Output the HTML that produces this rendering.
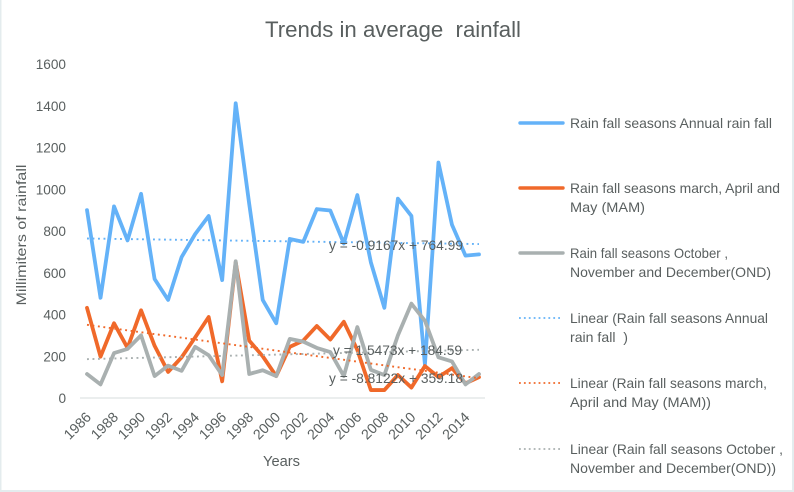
<!DOCTYPE html>
<html>
<head>
<meta charset="utf-8">
<title>Trends in average rainfall</title>
<style>
html,body{margin:0;padding:0;background:#fff;width:794px;height:492px;overflow:hidden}
svg{display:block;font-family:"Liberation Sans",sans-serif}
text{fill:#595f5f}
</style>
</head>
<body>
<svg id="chart" width="794" height="492" viewBox="0 0 794 492">
<rect x="0" y="0" width="794" height="492" fill="#ffffff"/>
<rect x="0" y="0" width="1.5" height="492" fill="#e4ecee"/>
<rect x="792" y="0" width="2" height="492" fill="#e4ecee"/>
<rect x="0" y="490" width="794" height="2" fill="#e4ecee"/>
<text x="393" y="37" text-anchor="middle" font-size="22.5" textLength="256" lengthAdjust="spacingAndGlyphs" xml:space="preserve">Trends in average  rainfall</text>
<text transform="translate(26,235) rotate(-90)" text-anchor="middle" font-size="14" textLength="141" lengthAdjust="spacingAndGlyphs">Millimiters of rainfall</text>
<text x="281.5" y="466" text-anchor="middle" font-size="14.5" textLength="37" lengthAdjust="spacingAndGlyphs">Years</text>
<g id="yTicks"></g>
<g id="xTicks"></g>
<line x1="80" y1="398" x2="485" y2="398" stroke="#dfe3e3" stroke-width="1.2"/>
<g id="marks"></g>
<g id="equations"></g>
<g font-size="13.8">
<g>
<line x1="520" y1="123" x2="563" y2="123" stroke="#64b2f8" stroke-width="3.4" stroke-linecap="round"/>
<text x="570" y="128" textLength="202" lengthAdjust="spacingAndGlyphs">Rain fall seasons Annual rain fall</text>
</g>
<g>
<line x1="520" y1="188" x2="563" y2="188" stroke="#f0692a" stroke-width="3.4" stroke-linecap="round"/>
<text x="570" y="193" textLength="210" lengthAdjust="spacingAndGlyphs">Rain fall seasons march, April and</text>
<text x="570" y="212" textLength="75" lengthAdjust="spacingAndGlyphs">May (MAM)</text>
</g>
<g>
<line x1="520" y1="253" x2="563" y2="253" stroke="#a9b0b0" stroke-width="3.4" stroke-linecap="round"/>
<text x="570" y="258" textLength="158" lengthAdjust="spacingAndGlyphs">Rain fall seasons October ,</text>
<text x="570" y="277" textLength="201" lengthAdjust="spacingAndGlyphs">November and December(OND)</text>
</g>
<g>
<line x1="519" y1="318" x2="563" y2="318" stroke="#64b2f8" stroke-width="1.8" stroke-dasharray="1.8 3.1"/>
<text x="570" y="323" textLength="198" lengthAdjust="spacingAndGlyphs">Linear (Rain fall seasons Annual</text>
<text x="570" y="342" xml:space="preserve" textLength="58" lengthAdjust="spacingAndGlyphs">rain fall  )</text>
</g>
<g>
<line x1="519" y1="383" x2="563" y2="383" stroke="#f0692a" stroke-width="1.8" stroke-dasharray="1.8 3.1"/>
<text x="570" y="388" textLength="197" lengthAdjust="spacingAndGlyphs">Linear (Rain fall seasons march,</text>
<text x="570" y="407" textLength="141" lengthAdjust="spacingAndGlyphs">April and May (MAM))</text>
</g>
<g>
<line x1="519" y1="449" x2="563" y2="449" stroke="#a9b0b0" stroke-width="1.8" stroke-dasharray="1.8 3.1"/>
<text x="570" y="454" textLength="213" lengthAdjust="spacingAndGlyphs">Linear (Rain fall seasons October ,</text>
<text x="570" y="473" textLength="206" lengthAdjust="spacingAndGlyphs">November and December(OND))</text>
</g>
</g>
</svg>
<script>
const years = [1986,1987,1988,1989,1990,1991,1992,1993,1994,1995,1996,1997,1998,1999,2000,2001,2002,2003,2004,2005,2006,2007,2008,2009,2010,2011,2012,2013,2014,2015];
const annualValues = [900,480,918,755,978,570,470,675,785,872,565,1412,930,470,358,762,748,905,898,740,972,650,432,955,872,160,1128,830,682,688];
const mamValues = [432,198,358,240,420,250,125,195,290,388,80,650,275,200,105,245,275,345,280,365,230,38,38,110,50,153,100,143,70,100];
const ondValues = [115,65,215,235,300,105,155,130,245,205,110,655,115,133,105,283,270,240,220,105,340,135,110,300,452,370,195,175,65,115];
const yTickValues = [0,200,400,600,800,1000,1200,1400,1600];
const xTickLabels = [1986,1988,1990,1992,1994,1996,1998,2000,2002,2004,2006,2008,2010,2012,2014];
const annualTrend = [-0.9167,764.99];
const mamTrend = [-8.8122,359.18];
const ondTrend = [1.5473,184.59];
const annualEquation = "y = -0.9167x + 764.99";
const mamEquation = "y = -8.8122x + 359.18";
const ondEquation = "y = 1.5473x + 184.59";

const NS = "http://www.w3.org/2000/svg";
function xScale(year){ return 87 + (year - 1986) * (392 / 29); }
function yScale(value){ return 398 - value * (334 / 1600); }
function make(tag, attrs, parent){
  const el = document.createElementNS(NS, tag);
  for (const k in attrs) el.setAttribute(k, attrs[k]);
  parent.appendChild(el);
  return el;
}
const yG = document.getElementById("yTicks");
const xG = document.getElementById("xTicks");
const marks = document.getElementById("marks");
const eqG = document.getElementById("equations");

yTickValues.forEach(function(v){
  const t = make("text", {x:66, y:yScale(v)+5, "text-anchor":"end", "font-size":"13.6"}, yG);
  t.textContent = v;
  
  
});
xTickLabels.forEach(function(v){
  const x = xScale(v) + 5;
  const t = make("text", {transform:"translate("+x+",418) rotate(-45)", "text-anchor":"end", "font-size":"14.2"}, xG);
  t.textContent = v;
  
  
});
function drawTrend(trend, color, name){
  const first = years[0], last = years[years.length-1];
  const v1 = trend[0] * 1 + trend[1];
  const v2 = trend[0] * years.length + trend[1];
  const l = make("line", {x1:xScale(first), y1:yScale(v1), x2:xScale(last), y2:yScale(v2), stroke:color, "stroke-width":"1.9", "stroke-dasharray":"1.9 3.6"}, marks);
  
  
}
function drawSeries(values, color, name){
  const pts = values.map(function(v,i){ return xScale(years[i]).toFixed(2)+","+yScale(v).toFixed(2); }).join(" ");
  const p = make("polyline", {points:pts, fill:"none", stroke:color, "stroke-width":"3.8", "stroke-linejoin":"round", "stroke-linecap":"round"}, marks);
  
  
}
drawSeries(annualValues, "#64b2f8", "series-annual");
drawSeries(mamValues, "#f0692a", "series-mam");
drawSeries(ondValues, "#a9b0b0", "series-ond");
drawTrend(annualTrend, "#64b2f8", "trendline-annual");
drawTrend(mamTrend, "#f0692a", "trendline-mam");
drawTrend(ondTrend, "#a9b0b0", "trendline-ond");
function drawEquation(str, x, y, len, name){
  const t = make("text", {x:x, y:y, "font-size":"14.2", textLength:len, lengthAdjust:"spacingAndGlyphs"}, eqG);
  t.textContent = str;
  
  
}
drawEquation(annualEquation, 329, 250, 134, "equation-annual");
drawEquation(ondEquation, 333, 355, 129, "equation-ond");
drawEquation(mamEquation, 329, 383, 134, "equation-mam");
</script>
</body>
</html>
